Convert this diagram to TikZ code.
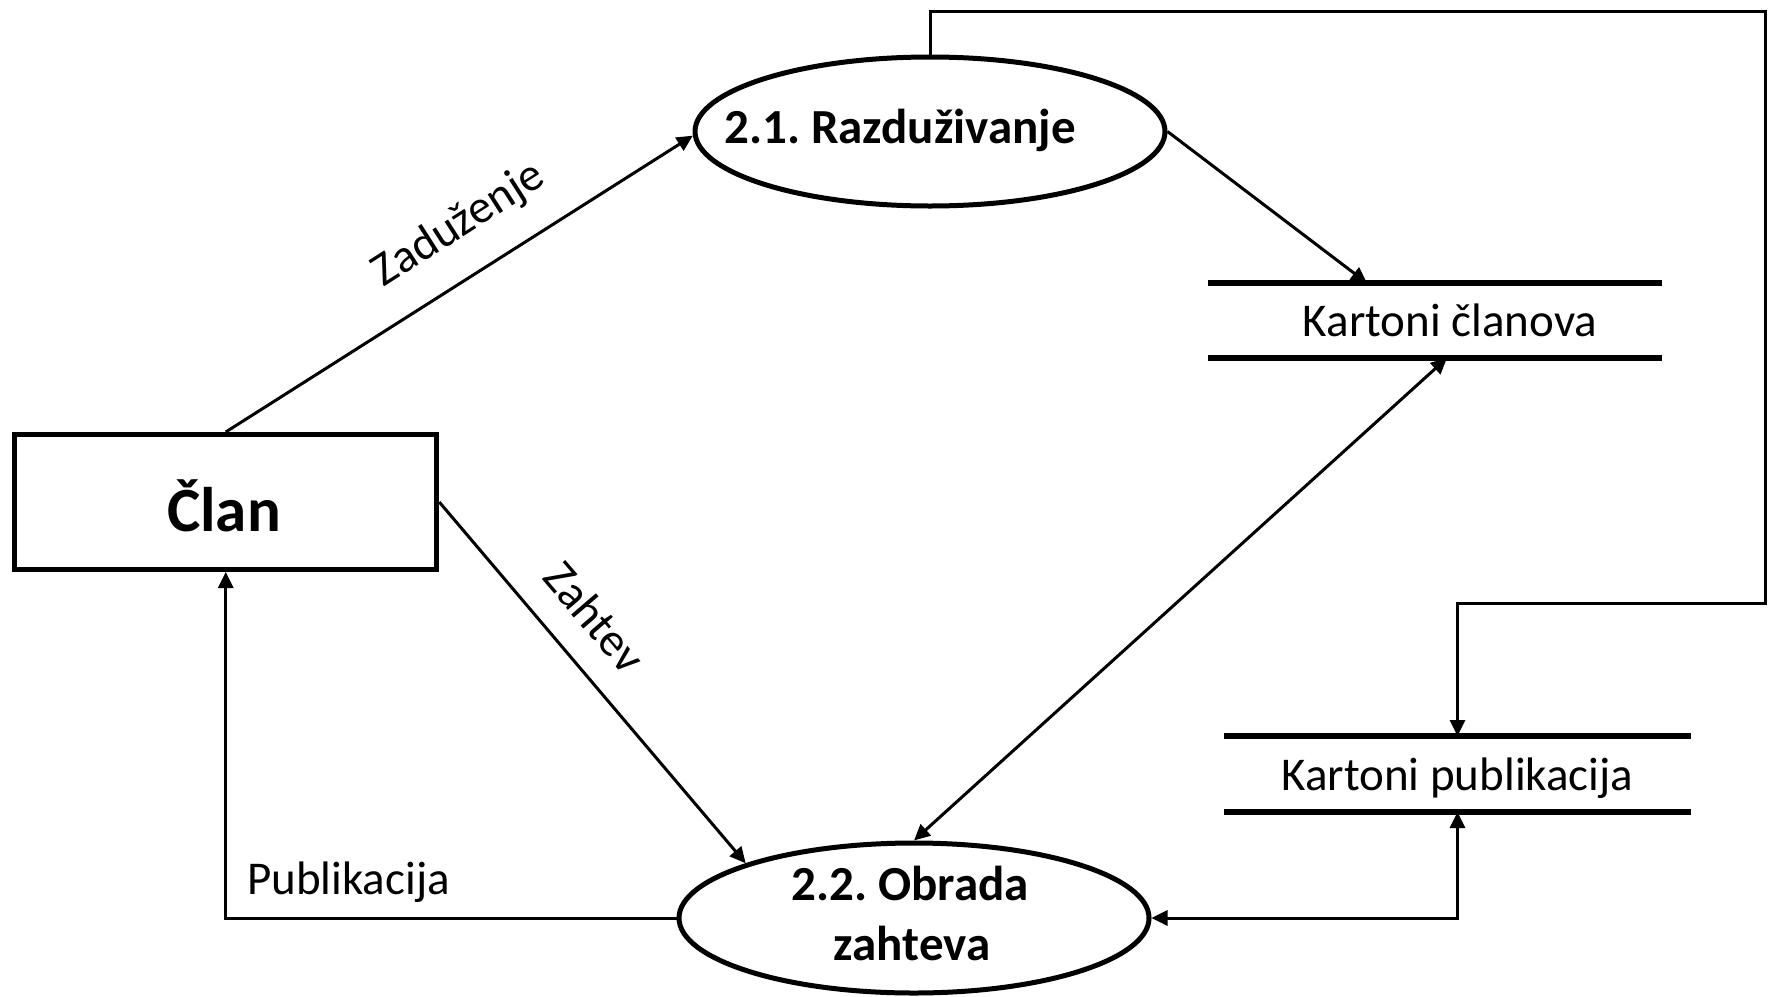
\documentclass[tikz,border=0pt]{standalone}
\usepackage{fontspec}
\setmainfont{Carlito}
\frenchspacing
\usetikzlibrary{arrows.meta,shapes.geometric,calc}
\begin{document}
\begin{tikzpicture}[x=1pt,y=-1pt,
  proc/.style={ellipse,draw,line width=5pt,minimum width=470pt,minimum height=149pt,inner sep=0pt,outer sep=2.5pt},
  ent/.style={rectangle,draw,line width=5pt,minimum width=422pt,minimum height=135pt,inner sep=0pt,outer sep=2.5pt},
  store/.style={rectangle,inner sep=0pt,outer sep=0pt},
  storeline/.style={line width=6pt},
  flow/.style={line width=3pt,-{Triangle[length=16pt,width=15pt]}},
  bflow/.style={line width=3pt,{Triangle[length=16pt,width=15pt]}-{Triangle[length=16pt,width=15pt]}},
  bigtxt/.style={font=\fontsize{63}{70}\selectfont\bfseries,inner sep=0pt},
  ptxt/.style={font=\fontsize{49}{60}\selectfont\bfseries,inner sep=0pt,align=center},
  ltxt/.style={font=\fontsize{47}{56}\selectfont,inner sep=0pt},
]
\useasboundingbox (0,0) rectangle (1769,996);

% entity
\node[ent] (clan) at (225.75,502) {};
\node[bigtxt,anchor=base] (clantxt) at (224,531) {Član};

% processes
\node[proc] (e1) at (930,131.5) {};
\node[ptxt,anchor=base] (e1txt) at (900,143) {2.1. Razduživanje};
\node[proc,minimum height=150pt] (e2) at (914,918) {};
\node[ptxt,anchor=base] (e2txta) at (910,900) {2.2. Obrada};
\node[ptxt,anchor=base] (e2txtb) at (912,960) {zahteva};

% data stores
\node[store,minimum width=454pt,minimum height=75pt] (s1) at (1435,320.5) {};
\draw[storeline] (s1.north west) -- (s1.north east);
\draw[storeline] (s1.south west) -- (s1.south east);
\node[ltxt,anchor=base] (s1txt) at (1450,336) {Kartoni članova};

\node[store,minimum width=467pt,minimum height=76pt] (s2) at (1457.5,774) {};
\draw[storeline] (s2.north west) -- (s2.north east);
\draw[storeline] (s2.south west) -- (s2.south east);
\node[ltxt,anchor=base] (s2txt) at (1457.5,790) {Kartoni publikacija};

% loop corners
\coordinate (c1) at (1765,11);
\coordinate (c2) at (1765,603);

% flows
\draw[flow] (clan.north) -- (e1.181);
\node[ltxt,rotate=32.6] (lzad) at (459,225) {Zaduženje};

\draw[flow] (clan.east) -- (e2.162);
\node[ltxt,rotate=-49.4] (lzah) at (595,617) {Zahtev};

\draw[flow] (e1.east) -- ($(s1.north west)+(159,0)$);
\draw[bflow] ($(s1.south west)+(239,0)$) -- (e2.north);
\draw[flow] (e2.west) -| (clan.south);
\node[ltxt,anchor=base west] (lpub) at (247,894) {Publikacija};
\draw[bflow] (e2.east) -| (s2.south);
\draw[flow] (e1.north) |- (c1) -- (c2) -| (s2.north);
\end{tikzpicture}
\end{document}
